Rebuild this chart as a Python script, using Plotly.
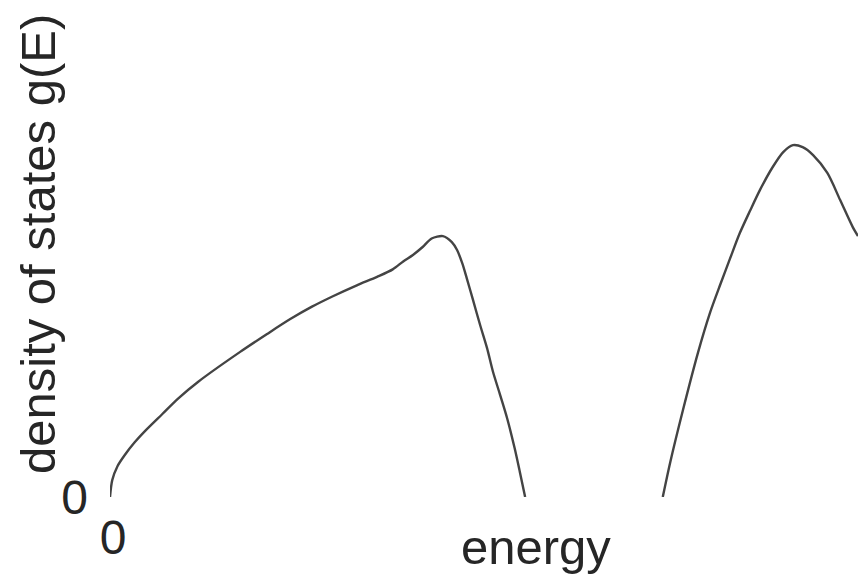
import plotly.graph_objects as go

# Band 1: from the band bottom at E=0 up to its peak and down to the gap
band1_energy = [0.0, 0.03, 0.10, 0.20, 0.33, 0.47, 0.70, 0.91, 1.18, 1.74, 2.10, 2.41,
                2.70, 2.98, 3.30, 3.57, 3.78, 3.92, 4.05, 4.18, 4.30, 4.45, 4.57, 4.64,
                4.71, 4.77, 4.85, 4.95, 5.04, 5.12, 5.21, 5.31, 5.41, 5.48, 5.55]
band1_dos = [0.0, 0.34, 0.62, 0.85, 1.10, 1.33, 1.67, 1.98, 2.32, 2.92, 3.28, 3.58,
             3.83, 4.04, 4.26, 4.43, 4.58, 4.74, 4.87, 5.03, 5.20, 5.25, 5.13, 4.97,
             4.70, 4.40, 3.98, 3.45, 3.00, 2.52, 2.08, 1.58, 0.98, 0.50, 0.0]

# Band 2: above the gap
band2_energy = [7.39, 7.49, 7.66, 7.86, 8.02, 8.16, 8.29, 8.42, 8.56, 8.69, 8.86, 9.00,
                9.13, 9.26, 9.40, 9.59, 9.76, 9.93, 10.0]
band2_dos = [0.0, 0.70, 1.75, 2.90, 3.70, 4.28, 4.80, 5.31, 5.77, 6.18, 6.64, 6.94,
             7.08, 7.04, 6.88, 6.52, 5.98, 5.43, 5.25]

tick_vals = [0]
tick_text = ["0"]

line_style = dict(color="#444444", width=2.4, shape="spline", smoothing=0.8)
font_family = "Liberation Sans, Arial, sans-serif"
text_color = "#262626"

fig = go.Figure()
fig.add_trace(go.Scatter(x=band1_energy, y=band1_dos, mode="lines", line=line_style,
                         hoverinfo="skip", cliponaxis=False))
fig.add_trace(go.Scatter(x=band2_energy, y=band2_dos, mode="lines", line=line_style,
                         hoverinfo="skip"))

fig.update_layout(
    width=858, height=574,
    margin=dict(l=110, r=0, t=0, b=77),
    paper_bgcolor="white", plot_bgcolor="white",
    showlegend=False,
    font=dict(family=font_family, size=48, color=text_color),
    xaxis=dict(range=[0, 10], showgrid=False, zeroline=False, showline=False,
               tickvals=tick_vals, ticktext=tick_text, ticks="", ticklabelstandoff=8,
               ticklabelshift=3, fixedrange=True),
    yaxis=dict(range=[0, 10], showgrid=False, zeroline=False, showline=False,
               tickvals=tick_vals, ticktext=tick_text, ticks="", ticklabelstandoff=21,
               fixedrange=True),
    annotations=[
        dict(text="energy", xref="paper", yref="paper", x=(536 - 110) / 748, y=-0.1,
             xanchor="center", yanchor="middle", showarrow=False,
             font=dict(size=49, family=font_family, color=text_color)),
        dict(text="density of states g(E)", xref="paper", yref="paper",
             x=-72 / 748, y=(497 - 244) / 497, textangle=-90,
             xanchor="center", yanchor="middle", showarrow=False,
             font=dict(size=49, family=font_family, color=text_color)),
    ],
)

fig.write_html("out.html")
